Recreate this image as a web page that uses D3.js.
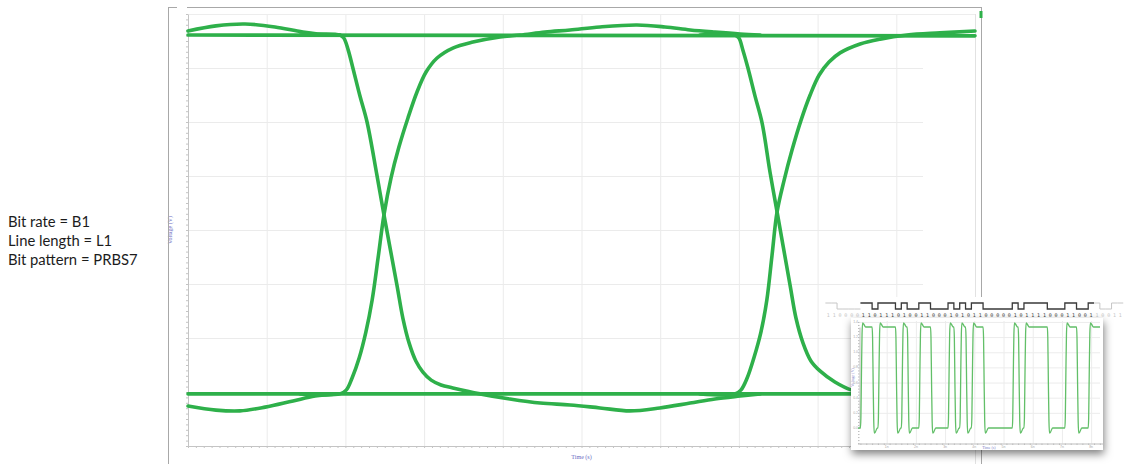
<!DOCTYPE html>
<html>
<head>
<meta charset="utf-8">
<script src="https://cdn.jsdelivr.net/npm/d3@7"></script>
<style>
  body { margin:0; background:#fff; }
  svg { display:block; }
</style>
</head>
<body>
<svg id="content" width="1125" height="464"></svg>
<script>
// eye diagram traces : [time (UI), voltage (V)]
const steadyHigh = [[0,1.322],[2,1.319]];
const steadyLow = [[0,-0.007],[2,-0.007]];
const overshootIn = [[0,1.337],[0.071,1.356],[0.145,1.363],[0.221,1.352],[0.292,1.333],[0.361,1.322],[0.386,1.322]];
const undershootIn = [[0,-0.052],[0.071,-0.067],[0.132,-0.070],[0.196,-0.056],[0.267,-0.033],[0.323,-0.015],[0.379,-0.007]];
const fall1 = [[0.285,1.322],[0.386,1.322],[0.396,1.311],[0.407,1.267],[0.419,1.200],[0.437,1.096],[0.455,1.000],
  [0.480,0.804],[0.498,0.656],[0.531,0.396],[0.546,0.274],[0.562,0.181],[0.579,0.115],[0.597,0.074],[0.618,0.044],
  [0.643,0.026],[0.673,0.015],[0.742,-0.007],[0.818,-0.026],[0.895,-0.041],[0.971,-0.048],[1.047,-0.059],
  [1.123,-0.070],[1.199,-0.059],[1.276,-0.041],[1.339,-0.026],[1.403,-0.015],[1.454,-0.007]];
const rise1 = [[0.285,-0.007],[0.386,-0.007],[0.402,0.007],[0.417,0.052],[0.435,0.126],[0.452,0.222],[0.468,0.341],
  [0.483,0.496],[0.498,0.656],[0.516,0.793],[0.536,0.907],[0.559,1.015],[0.582,1.111],[0.605,1.185],[0.633,1.237],
  [0.673,1.274],[0.724,1.296],[0.793,1.315],[0.844,1.322],[0.907,1.333],[0.971,1.341],[1.047,1.352],[1.141,1.359],
  [1.212,1.352],[1.276,1.341],[1.339,1.333],[1.403,1.326],[1.454,1.322]];
const fall2 = [[1.301,1.322],[1.390,1.322],[1.400,1.311],[1.410,1.267],[1.423,1.200],[1.441,1.096],[1.459,0.996],
  [1.479,0.815],[1.497,0.667],[1.530,0.396],[1.545,0.274],[1.563,0.181],[1.583,0.115],[1.606,0.078],[1.644,0.037],
  [1.687,0.007],[1.759,-0.007],[1.835,-0.026],[1.911,-0.041],[2.000,-0.048]];
const rise2 = [[1.301,-0.007],[1.390,-0.007],[1.405,0.007],[1.421,0.052],[1.438,0.126],[1.456,0.222],[1.471,0.341],
  [1.484,0.504],[1.497,0.667],[1.515,0.785],[1.535,0.896],[1.558,1.007],[1.581,1.100],[1.604,1.174],[1.629,1.222],
  [1.657,1.256],[1.708,1.289],[1.759,1.307],[1.827,1.322],[1.911,1.330],[2.000,1.337]];

const infoLines = ["Bit rate = B1", "Line length = L1", "Bit pattern = PRBS7"];

// inset : bit pattern and the simulated edge shapes (bit fraction, level)
const bitsBefore = [1,1,0,0,0,0];
const bits = [1,1,0,1,1,1,0,1,0,0,1,1,0,0,0,1,0,1,0,1,1,0,0,0,0,0,1,0,1,1,1,1,0,0,0,1,1,0,0,1];
const bitsAfter = [1,0,0,1,1];
const insetRise = [[0,0],[0.08,0.1],[0.18,0.55],[0.28,0.93],[0.38,1.04],[0.55,1.03],[0.9,1.0]];
const insetFall = [[0,1],[0.08,0.9],[0.18,0.45],[0.28,0.07],[0.38,-0.05],[0.55,-0.04],[0.9,0]];
const insetTimeTicks = ["1n","2n","3n","4n","5n","6n","7n","8n"];
const insetLevelTicks = ["0.0","0.2","0.4","0.6","0.8","1.0","1.2","1.4"];

class EyeChart {
  constructor(config) {
    this.config = {
      parent: config.parent,
      left: config.left, top: config.top,
      width: config.width, height: config.height,
      gridRight: config.gridRight
    };
    this.init();
  }

  init() {
    let self = this;
    self.svg = d3.select(self.config.parent);
    self.x = d3.scaleLinear().domain([0, 2])
      .range([self.config.left, self.config.left + self.config.width]);
    self.y = d3.scaleLinear().domain([-0.2, 1.4])
      .range([self.config.top + self.config.height, self.config.top]);
    self.line = d3.line().x(d => self.x(d[0])).y(d => self.y(d[1])).curve(d3.curveCatmullRom.alpha(0.5));
  }

  render() {
    let self = this;
    const c = self.config;
    const svg = self.svg;

    // vertical grid
    svg.append("g")
      .attr("transform", `translate(0,${c.top + c.height})`)
      .call(d3.axisBottom(self.x).tickValues(d3.range(0.2, 2.01, 0.2)).tickSize(-c.height).tickFormat("").tickSizeOuter(0))
      .call(g => g.select(".domain").remove())
      .call(g => g.selectAll("line").attr("stroke", "#ebebeb"));

    // horizontal grid (cut short on the right like the capture)
    svg.append("g")
      .attr("transform", `translate(${c.left},0)`)
      .call(d3.axisLeft(self.y).tickValues(d3.range(0, 1.21, 0.2)).tickSize(-(c.gridRight - c.left)).tickFormat("").tickSizeOuter(0))
      .call(g => g.select(".domain").remove())
      .call(g => g.selectAll("line").attr("stroke", "#ebebeb"));
    svg.append("g")
      .attr("transform", `translate(${c.left},0)`)
      .call(d3.axisLeft(self.y).tickValues([1.4]).tickSize(-c.width).tickFormat("").tickSizeOuter(0))
      .call(g => g.select(".domain").remove())
      .call(g => g.selectAll("line").attr("stroke", "#ededed"));

    // axes with minor ticks
    svg.append("g")
      .attr("transform", `translate(${c.left},0)`)
      .call(d3.axisLeft(self.y).tickValues(d3.range(-0.2, 1.401, 0.02)).tickSize(2).tickFormat("").tickSizeOuter(0))
      .call(g => g.select(".domain").attr("stroke", "#c4c4c4"))
      .call(g => g.selectAll("line").attr("stroke", "#c4c4c4"));
    svg.append("g")
      .attr("transform", `translate(0,${c.top + c.height})`)
      .call(d3.axisBottom(self.x).tickValues(d3.range(0, 2.001, 0.02)).tickSize(2).tickFormat("").tickSizeOuter(0))
      .call(g => g.select(".domain").attr("stroke", "#c4c4c4"))
      .call(g => g.selectAll("line").attr("stroke", "#c4c4c4"));
    svg.append("line")
      .attr("x1", c.left + c.width + 0.5).attr("x2", c.left + c.width + 0.5)
      .attr("y1", c.top).attr("y2", 464).attr("stroke", "#e2e2e2");

    svg.append("text")
      .attr("transform", `translate(172,${c.top + c.height / 2}) rotate(-90)`)
      .attr("text-anchor", "middle").attr("font-family", "Liberation Serif")
      .attr("font-size", 6).attr("fill", "#6b6bc2").text("Voltage (V)");
    svg.append("text")
      .attr("x", self.x(1)).attr("y", 459)
      .attr("text-anchor", "middle").attr("font-family", "Liberation Serif")
      .attr("font-size", 6).attr("fill", "#6b6bc2").text("Time (s)");

    // traces
    const traces = [steadyHigh, steadyLow, overshootIn, undershootIn, fall1, rise1, fall2, rise2];
    svg.append("g").selectAll("path")
      .data(traces)
      .join("path")
      .attr("d", self.line)
      .attr("fill", "none")
      .attr("stroke", "#2eb04a")
      .attr("stroke-width", 3.6)
      .attr("stroke-linejoin", "round")
      .attr("stroke-linecap", "round");

    // outer frame
    const frame = svg.append("g").attr("stroke", "#a8a8a8").attr("fill", "none");
    frame.append("line").attr("x1", 168.5).attr("x2", 168.5).attr("y1", 7).attr("y2", 464);
    frame.append("line").attr("x1", 168).attr("x2", 177).attr("y1", 7.5).attr("y2", 7.5);
    frame.append("line").attr("x1", 187).attr("x2", 982).attr("y1", 7.5).attr("y2", 7.5);
    frame.append("line").attr("x1", 981.5).attr("x2", 981.5).attr("y1", 7).attr("y2", 464);
    svg.append("rect").attr("x", 979.5).attr("y", 11).attr("width", 3).attr("height", 7).attr("fill", "#2eb04a");

    // side notes
    svg.append("g").selectAll("text")
      .data(infoLines)
      .join("text")
      .attr("x", 8)
      .attr("y", (d, i) => 227 + i * 19)
      .attr("font-family", "Lato")
      .attr("font-size", 14.8)
      .attr("fill", "#1c1c1c")
      .text(d => d);
  }
}

class InsetChart {
  constructor(config) {
    this.config = config;
    this.init();
  }

  init() {
    let self = this;
    self.svg = d3.select(self.config.parent);
    self.x = d3.scaleLinear().domain([0, 8.4]).range([857.5, 1102.8]);
    self.y = d3.scaleLinear().domain([0, 1]).range([428, 327]);
    self.ys = d3.scaleLinear().domain([0, 1]).range([309, 303]);
    self.bitStart = 0.1;
    self.bitPeriod = 0.2;
  }

  render() {
    let self = this;
    const svg = self.svg;
    const x = self.x, y = self.y;

    // bit strip
    svg.append("rect").attr("x", 822).attr("y", 297).attr("width", 303).attr("height", 22).attr("fill", "#fff");
    const stripLine = d3.line().x(d => x(d[0])).y(d => self.ys(d[1])).curve(d3.curveStepAfter);
    const groups = [
      { b: bitsBefore, t0: self.bitStart - bitsBefore.length * self.bitPeriod, color: "#c6c6c6", w: 1 },
      { b: bits, t0: self.bitStart, color: "#3a3a3a", w: 1.3 },
      { b: bitsAfter, t0: self.bitStart + bits.length * self.bitPeriod, color: "#c6c6c6", w: 1 }
    ];
    groups.forEach(gr => {
      const pts = gr.b.map((v, i) => [gr.t0 + i * self.bitPeriod, v]);
      pts.push([gr.t0 + gr.b.length * self.bitPeriod, gr.b[gr.b.length - 1]]);
      svg.append("path").attr("d", stripLine(pts))
        .attr("fill", "none").attr("stroke", gr.color).attr("stroke-width", gr.w);
      svg.append("g").selectAll("text")
        .data(gr.b)
        .join("text")
        .attr("x", (d, i) => x(gr.t0 + (i + 0.5) * self.bitPeriod))
        .attr("y", 317)
        .attr("text-anchor", "middle")
        .attr("font-family", "DejaVu Sans Mono")
        .attr("font-size", 5)
        .attr("fill", gr.color)
        .text(d => d);
    });

    // panel with shadow
    const defs = svg.append("defs");
    const f = defs.append("filter").attr("id", "shadow")
      .attr("x", "-10%").attr("y", "-15%").attr("width", "125%").attr("height", "140%");
    f.append("feDropShadow").attr("dx", 1).attr("dy", 4).attr("stdDeviation", 4.5)
      .attr("flood-color", "#000").attr("flood-opacity", 0.5);
    svg.append("rect").attr("x", 851).attr("y", 318).attr("width", 252).attr("height", 132)
      .attr("fill", "#fff").attr("filter", "url(#shadow)");

    const top = 321, bottom = 443.5, left = 859.5, right = 1100;
    svg.append("g")
      .attr("transform", `translate(0,${bottom})`)
      .call(d3.axisBottom(x).tickValues(d3.range(1, 8.01, 1)).tickSize(-(bottom - top)).tickFormat("").tickSizeOuter(0))
      .call(g => g.select(".domain").remove())
      .call(g => g.selectAll("line").attr("stroke", "#ececec"));
    svg.append("g")
      .attr("transform", `translate(${left},0)`)
      .call(d3.axisLeft(y).tickValues(d3.range(0.15, 1.06, 0.15)).tickSize(-(right - left)).tickFormat("").tickSizeOuter(0))
      .call(g => g.select(".domain").remove())
      .call(g => g.selectAll("line").attr("stroke", "#ececec"));
    svg.append("g")
      .attr("transform", `translate(${left},0)`)
      .call(d3.axisLeft(y).tickValues(d3.range(-0.15, 1.06, 0.03)).tickSize(1.5).tickFormat("").tickSizeOuter(0))
      .call(g => g.select(".domain").attr("stroke", "#bdbdbd"))
      .call(g => g.selectAll("line").attr("stroke", "#bdbdbd"));
    svg.append("g")
      .attr("transform", `translate(0,${bottom})`)
      .call(d3.axisBottom(x).tickValues(d3.range(0.1, 8.31, 0.2)).tickSize(1.5).tickFormat("").tickSizeOuter(0))
      .call(g => g.select(".domain").attr("stroke", "#bdbdbd"))
      .call(g => g.selectAll("line").attr("stroke", "#bdbdbd"));

    svg.append("g").selectAll("text")
      .data(insetTimeTicks)
      .join("text")
      .attr("x", (d, i) => x(i + 1)).attr("y", 448)
      .attr("text-anchor", "middle").attr("font-size", 3.5).attr("fill", "#aaa")
      .attr("font-family", "Liberation Sans").text(d => d);
    svg.append("g").selectAll("text")
      .data(insetLevelTicks)
      .join("text")
      .attr("x", 858).attr("y", (d, i) => y(i * 0.15) + 1)
      .attr("text-anchor", "end").attr("font-size", 3.5).attr("fill", "#aaa")
      .attr("font-family", "Liberation Sans").text(d => d);
    svg.append("text").attr("x", x(4.5)).attr("y", 448.5)
      .attr("text-anchor", "middle").attr("font-size", 4).attr("fill", "#8080c8")
      .attr("font-family", "Liberation Serif").text("Time (s)");
    svg.append("text").attr("transform", `translate(854,${y(0.5)}) rotate(-90)`)
      .attr("text-anchor", "middle").attr("font-size", 4).attr("fill", "#8080c8")
      .attr("font-family", "Liberation Serif").text("Voltage (V)");

    // simulated waveform built from the bit pattern and edge shapes
    const seq = bits.concat(bitsAfter.slice(0, 1));
    let prev = bitsBefore[bitsBefore.length - 1];
    const pts = [[0.02, prev]];
    seq.forEach((b, i) => {
      const t0 = self.bitStart + i * self.bitPeriod;
      if (b !== prev) {
        (b ? insetRise : insetFall).forEach(s => pts.push([t0 + s[0] * self.bitPeriod, s[1]]));
      }
      prev = b;
    });
    pts.push([x.invert(right), prev]);
    const wave = d3.line().x(d => x(d[0])).y(d => y(d[1])).curve(d3.curveMonotoneX);
    svg.append("path").attr("d", wave(pts))
      .attr("fill", "none").attr("stroke", "#62bf68").attr("stroke-width", 1.3);
  }
}

const eye = new EyeChart({ parent: "#content", left: 188, top: 14, width: 787, height: 432, gridRight: 923 });
eye.render();
const inset = new InsetChart({ parent: "#content" });
inset.render();
</script>
</body>
</html>
